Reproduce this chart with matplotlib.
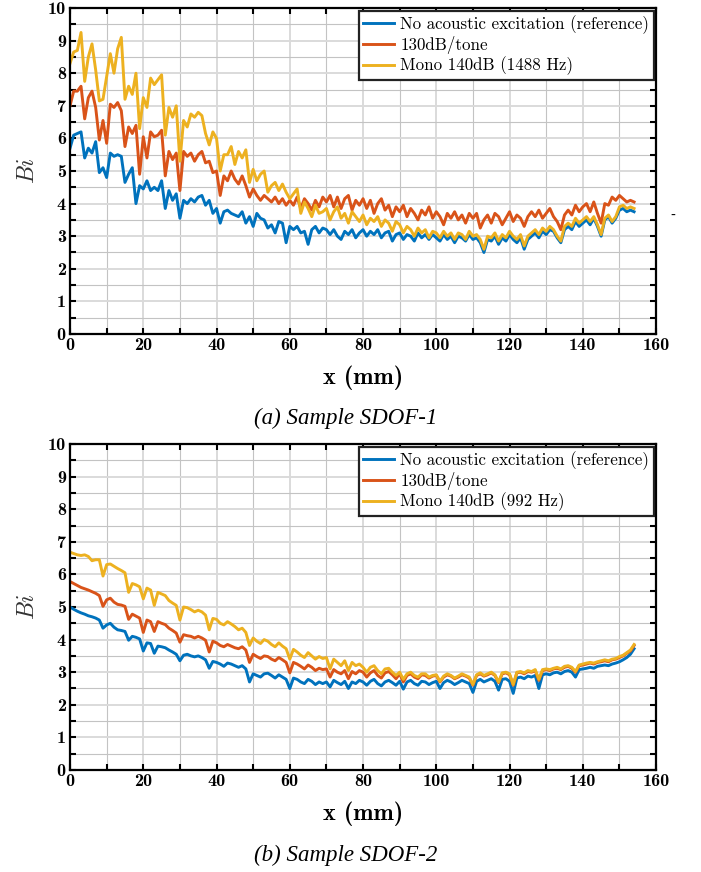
import numpy as np
import matplotlib
matplotlib.use("Agg")
import matplotlib.pyplot as plt
from matplotlib.ticker import MultipleLocator

plt.rcParams['mathtext.fontset'] = 'cm'
plt.rcParams['axes.unicode_minus'] = False

# position along the sample, 1 mm steps
x_mm = np.arange(0, 155)

# Sample SDOF-1
top_ref = [5.70, 6.10, 6.15, 6.20, 5.40, 5.70, 5.55, 5.90, 4.95, 5.10,
           4.80, 5.55, 5.45, 5.50, 5.45, 4.65, 4.90, 5.10, 4.00, 4.55,
           4.45, 4.70, 4.40, 4.50, 4.40, 4.70, 3.85, 4.40, 4.10, 4.30,
           3.55, 4.10, 4.00, 4.15, 4.05, 4.20, 4.25, 3.95, 4.10, 3.70,
           3.85, 3.40, 3.75, 3.80, 3.70, 3.65, 3.60, 3.75, 3.40, 3.60,
           3.30, 3.70, 3.55, 3.50, 3.25, 3.35, 3.10, 3.45, 3.40, 2.80,
           3.30, 3.20, 3.30, 3.10, 3.15, 2.75, 3.20, 3.30, 3.10, 3.25,
           3.20, 3.05, 3.20, 3.00, 2.90, 3.15, 3.05, 3.20, 2.95, 3.10,
           3.20, 3.00, 3.15, 3.05, 3.20, 2.95, 3.10, 3.15, 2.85, 3.05,
           3.10, 2.90, 3.05, 3.00, 2.85, 3.10, 2.95, 3.05, 2.90, 3.05,
           2.95, 2.85, 3.05, 2.90, 3.00, 2.80, 3.00, 2.95, 2.85, 3.05,
           2.90, 2.95, 2.80, 2.50, 2.90, 2.85, 3.00, 2.75, 2.95, 2.85,
           3.05, 2.90, 2.80, 2.95, 2.60, 2.90, 3.00, 3.10, 2.95, 3.15,
           3.05, 3.20, 3.15, 2.95, 2.80, 3.20, 3.30, 3.20, 3.45, 3.30,
           3.40, 3.50, 3.35, 3.55, 3.30, 3.00, 3.50, 3.60, 3.40, 3.55,
           3.80, 3.85, 3.75, 3.80, 3.75]
top_130 = [7.00, 7.45, 7.45, 7.60, 6.60, 7.25, 7.45, 6.95, 5.95, 6.55,
           5.85, 7.05, 6.95, 7.10, 6.85, 5.75, 6.35, 6.15, 6.40, 4.90,
           6.05, 5.40, 6.20, 6.05, 6.10, 6.25, 4.85, 5.60, 5.35, 5.55,
           4.40, 5.60, 5.45, 5.55, 5.30, 5.50, 5.60, 5.25, 5.30, 4.95,
           5.00, 4.25, 4.85, 4.70, 5.00, 4.75, 4.60, 4.85, 4.55, 4.20,
           4.45, 4.25, 4.10, 4.25, 4.15, 4.05, 4.20, 4.00, 4.15, 3.95,
           4.10, 3.95, 4.20, 3.85, 4.15, 4.00, 3.80, 4.10, 3.90, 4.20,
           4.05, 4.25, 3.90, 4.20, 3.85, 4.15, 4.25, 3.80, 4.10, 3.95,
           4.15, 3.85, 4.10, 3.70, 4.00, 4.15, 3.80, 3.95, 3.60, 3.90,
           3.75, 3.95, 3.60, 3.85, 3.70, 3.50, 3.80, 3.65, 3.90, 3.55,
           3.75, 3.60, 3.35, 3.70, 3.55, 3.75, 3.50, 3.65, 3.40, 3.70,
           3.55, 3.70, 3.25, 3.50, 3.65, 3.40, 3.70, 3.60, 3.35, 3.55,
           3.75, 3.45, 3.65, 3.55, 3.30, 3.60, 3.75, 3.60, 3.80, 3.55,
           3.70, 3.85, 3.60, 3.45, 3.20, 3.65, 3.80, 3.65, 3.95, 3.75,
           3.90, 4.00, 3.75, 4.05, 3.70, 3.40, 4.00, 3.95, 4.20, 4.10,
           4.25, 4.15, 4.05, 4.10, 4.05]
top_mono = [8.30, 8.65, 8.70, 9.25, 7.75, 8.50, 8.90, 8.10, 7.15, 7.20,
            7.90, 8.60, 8.00, 8.75, 9.10, 7.20, 7.60, 7.35, 8.00, 6.30,
            7.25, 6.95, 7.85, 7.65, 7.80, 7.95, 6.10, 6.95, 6.65, 7.00,
            5.30, 6.55, 6.35, 6.75, 6.65, 6.80, 6.70, 6.15, 5.80, 6.20,
            6.00, 5.00, 5.50, 5.50, 5.75, 5.20, 5.60, 5.40, 5.65, 4.65,
            5.05, 4.70, 4.90, 5.00, 4.35, 4.55, 4.65, 4.40, 4.60, 4.35,
            4.15, 4.30, 4.45, 3.70, 4.05, 3.85, 3.60, 3.95, 3.70, 3.75,
            3.85, 3.50, 3.75, 3.90, 3.55, 3.70, 3.40, 3.75, 3.60, 3.45,
            3.65, 3.35, 3.55, 3.45, 3.60, 3.30, 3.50, 3.40, 3.15, 3.45,
            3.35, 3.10, 3.30, 3.20, 3.00, 3.25, 3.10, 3.20, 2.95, 3.15,
            3.10, 2.95, 3.15, 3.00, 3.10, 2.90, 3.10, 3.05, 2.90, 3.15,
            3.00, 3.05, 2.90, 2.60, 3.00, 2.95, 3.10, 2.85, 3.05, 2.95,
            3.15, 3.00, 2.90, 3.05, 2.70, 3.00, 3.10, 3.20, 3.05, 3.25,
            3.15, 3.30, 3.20, 3.00, 2.85, 3.30, 3.40, 3.30, 3.55, 3.40,
            3.50, 3.60, 3.45, 3.60, 3.35, 3.05, 3.55, 3.65, 3.45, 3.60,
            3.90, 3.95, 3.85, 3.90, 3.85]

# Sample SDOF-2
bot_ref = [5.00, 4.93, 4.87, 4.82, 4.78, 4.73, 4.70, 4.66, 4.60, 4.35,
           4.45, 4.50, 4.38, 4.30, 4.28, 4.25, 3.98, 4.10, 4.07, 4.02,
           3.65, 3.90, 3.88, 3.58, 3.80, 3.78, 3.75, 3.68, 3.62, 3.55,
           3.35, 3.52, 3.55, 3.50, 3.47, 3.50, 3.45, 3.38, 3.12, 3.33,
           3.30, 3.25, 3.18, 3.28, 3.25, 3.20, 3.15, 3.20, 3.10, 2.70,
           2.95, 2.90, 2.85, 2.95, 2.97, 2.90, 2.82, 2.92, 2.85, 2.78,
           2.50, 2.82, 2.78, 2.70, 2.65, 2.78, 2.72, 2.62, 2.70, 2.65,
           2.70, 2.55, 2.75, 2.68, 2.62, 2.72, 2.50, 2.70, 2.65, 2.75,
           2.70, 2.60, 2.72, 2.78, 2.65, 2.58, 2.70, 2.75, 2.68, 2.60,
           2.72, 2.48, 2.70, 2.75, 2.65, 2.60, 2.72, 2.70, 2.62, 2.68,
           2.72, 2.50, 2.68, 2.75, 2.70, 2.62, 2.68, 2.75, 2.70, 2.65,
           2.38, 2.72, 2.78, 2.70, 2.75, 2.80, 2.72, 2.45, 2.78, 2.80,
           2.72, 2.35, 2.82, 2.85, 2.80, 2.88, 2.85, 2.90, 2.50, 2.92,
           2.95, 2.92, 2.98, 3.00, 2.95, 3.02, 3.05, 3.00, 2.85, 3.08,
           3.10, 3.12, 3.15, 3.12, 3.18, 3.20, 3.22, 3.20, 3.25, 3.28,
           3.32, 3.38, 3.45, 3.55, 3.72]
bot_130 = [5.78, 5.72, 5.66, 5.60, 5.56, 5.52, 5.47, 5.42, 5.35, 5.02,
           5.22, 5.27, 5.15, 5.08, 5.06, 5.02, 4.62, 4.78, 4.72, 4.66,
           4.22, 4.60, 4.55, 4.25, 4.55, 4.50, 4.46, 4.35, 4.28, 4.20,
           3.92, 4.15, 4.12, 4.10, 4.05, 4.10, 4.05, 3.98, 3.62, 3.95,
           3.90, 3.82, 3.78, 3.85, 3.80, 3.75, 3.72, 3.78, 3.68, 3.30,
           3.55, 3.48, 3.42, 3.50, 3.48, 3.40, 3.35, 3.45, 3.38, 3.30,
           2.98, 3.30, 3.25, 3.18, 3.10, 3.22, 3.15, 3.05, 3.12, 3.08,
           3.10, 2.85, 3.08, 3.00, 2.95, 3.05, 2.80, 3.02, 2.95, 3.05,
           3.00, 2.85, 2.98, 3.05, 2.90, 2.82, 2.98, 3.02, 2.92, 2.80,
           2.95, 2.70, 2.90, 2.95, 2.85, 2.80, 2.92, 2.90, 2.82, 2.88,
           2.90, 2.70, 2.85, 2.92, 2.88, 2.80, 2.85, 2.92, 2.88, 2.82,
           2.60, 2.90, 2.95, 2.88, 2.92, 2.98, 2.90, 2.68, 2.95, 2.98,
           2.92, 2.60, 2.98, 3.00, 2.95, 3.02, 3.00, 3.05, 2.75, 3.05,
           3.08, 3.05, 3.10, 3.12, 3.08, 3.15, 3.18, 3.12, 3.00, 3.20,
           3.22, 3.25, 3.28, 3.25, 3.30, 3.32, 3.35, 3.32, 3.38, 3.40,
           3.45, 3.50, 3.58, 3.65, 3.82]
bot_mono = [6.68, 6.64, 6.60, 6.58, 6.60, 6.55, 6.42, 6.45, 6.45, 5.95,
            6.30, 6.32, 6.25, 6.18, 6.12, 6.05, 5.45, 5.72, 5.68, 5.62,
            5.25, 5.58, 5.52, 5.05, 5.45, 5.40, 5.35, 5.20, 5.12, 5.05,
            4.60, 5.00, 4.98, 4.92, 4.85, 4.90, 4.85, 4.75, 4.30, 4.65,
            4.62, 4.50, 4.45, 4.55, 4.48, 4.40, 4.30, 4.35, 4.22, 3.82,
            4.05, 3.95, 3.88, 4.00, 3.95, 3.85, 3.78, 3.90, 3.80, 3.72,
            3.40, 3.70, 3.62, 3.52, 3.45, 3.60, 3.50, 3.40, 3.48, 3.42,
            3.45, 3.10, 3.40, 3.30, 3.20, 3.35, 3.05, 3.30, 3.20, 3.25,
            3.15, 3.00, 3.15, 3.20, 3.05, 2.95, 3.10, 3.12, 3.00, 2.90,
            3.00, 2.78, 2.95, 3.00, 2.90, 2.85, 2.95, 2.95, 2.85, 2.90,
            2.92, 2.72, 2.88, 2.95, 2.90, 2.82, 2.88, 2.95, 2.90, 2.85,
            2.62, 2.92, 2.98, 2.90, 2.95, 3.00, 2.92, 2.70, 2.98, 3.00,
            2.95, 2.62, 3.00, 3.02, 2.98, 3.05, 3.02, 3.08, 2.78, 3.08,
            3.10, 3.08, 3.12, 3.15, 3.10, 3.18, 3.20, 3.15, 3.02, 3.22,
            3.25, 3.28, 3.30, 3.28, 3.32, 3.35, 3.38, 3.35, 3.40, 3.42,
            3.48, 3.52, 3.60, 3.68, 3.85]

labels_a = ['No acoustic excitation (reference)', '130dB/tone', 'Mono 140dB (1488 Hz)']
labels_b = ['No acoustic excitation (reference)', '130dB/tone', 'Mono 140dB (992 Hz)']
colors = ['#0072BD', '#D95319', '#EDB120']


def draw_panel(fig, ax, series, labels, caption, cap_y):
    for y, lab, c in zip(series, labels, colors):
        ax.plot(x_mm, y, color=c, lw=2.1, label=lab)
    ax.set_xlim(0, 160)
    ax.set_ylim(0, 10)
    ax.xaxis.set_major_locator(MultipleLocator(20))
    ax.xaxis.set_minor_locator(MultipleLocator(10))
    ax.yaxis.set_major_locator(MultipleLocator(1))
    ax.yaxis.set_minor_locator(MultipleLocator(0.5))
    ax.grid(which='major', color='#dadada', lw=1.4)
    ax.grid(which='minor', color='#c3c3c3', lw=0.8)
    ax.set_axisbelow(True)
    ax.tick_params(which='both', direction='in', top=True, right=True,
                   length=4, width=1.5, color='black', pad=3)
    for lab in ax.get_xticklabels() + ax.get_yticklabels():
        lab.set_fontfamily('cmb10')
        lab.set_fontsize(13)
    for s in ax.spines.values():
        s.set_linewidth(1.6)
    ax.set_xlabel('x (mm)', fontfamily='cmb10', fontsize=17.5, labelpad=9)
    ax.set_ylabel(r'$Bi$', fontsize=17, color='#333333', labelpad=6)
    leg = ax.legend(loc='upper right', prop={'family': 'cmr10', 'size': 12.2},
                    fancybox=False, framealpha=1, edgecolor='#222222',
                    handlelength=1.8, handletextpad=0.4, borderpad=0.25,
                    labelspacing=0.15, borderaxespad=0.15)
    leg.get_frame().set_linewidth(1.6)
    fig.text(346 / 701, cap_y, caption, ha='center', va='center',
             fontfamily='Liberation Serif', style='italic', fontsize=16.5)


fig = plt.figure(figsize=(7.01, 8.72), dpi=100)
ax1 = fig.add_axes([0.0999, 0.617, 0.836, 0.3738])
ax2 = fig.add_axes([0.0999, 0.117, 0.836, 0.3738])

draw_panel(fig, ax1, [top_ref, top_130, top_mono], labels_a, '(a) Sample SDOF-1', 1 - 418 / 872)
draw_panel(fig, ax2, [bot_ref, bot_130, bot_mono], labels_b, '(b) Sample SDOF-2', 1 - 855 / 872)

fig.text(673 / 701, 1 - 216 / 872, '-', fontsize=10, ha='center', va='center')

fig.savefig('out.png', dpi=100)
